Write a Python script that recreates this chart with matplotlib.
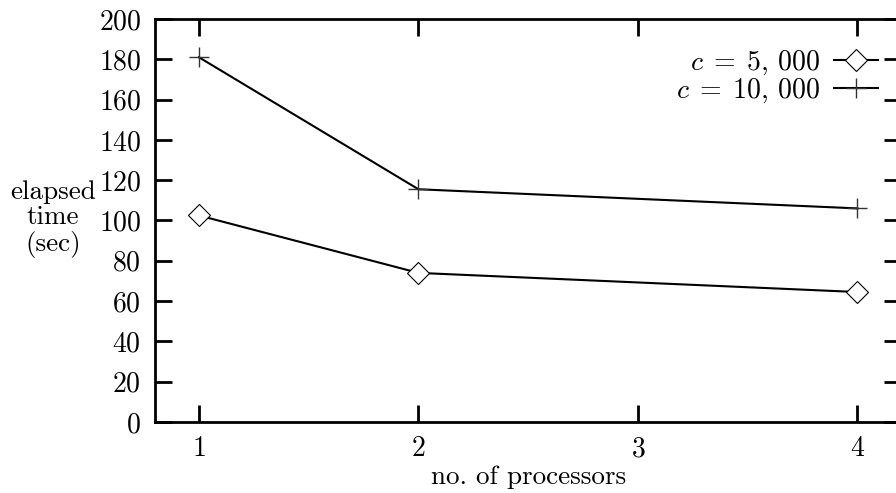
import matplotlib
matplotlib.use("Agg")
import matplotlib.pyplot as plt

procs = [1, 2, 4]
t_5000 = [102.5, 74.0, 64.5]
t_10000 = [181.0, 115.5, 106.0]
labels = [r"$c\;=\;5,\,000$", r"$c\;=\;10,\,000$"]

plt.rcParams["font.family"] = "cmr10"
plt.rcParams["mathtext.fontset"] = "cm"
plt.rcParams["axes.formatter.use_mathtext"] = True

fig = plt.figure(figsize=(8.96, 4.93), dpi=100)
ax = fig.add_axes([0.173, 0.144, 0.833, 0.8175])

ax.plot(procs, t_5000, color="black", lw=1.5, marker="D", markersize=11.5,
        markerfacecolor="white", markeredgecolor="black", markeredgewidth=0.8,
        label=labels[0])
ax.plot(procs, t_10000, color="black", lw=1.5, marker="+", markersize=15,
        markeredgewidth=1.0, markeredgecolor="#333333", label=labels[1])

ax.set_xlim(0.8, 4.2)
ax.set_ylim(0, 200)
ax.set_xticks([1, 2, 3, 4])
ax.set_yticks(range(0, 201, 20))
ax.tick_params(direction="in", length=12, width=2, labelsize=20,
               top=True, right=True, pad=10)
for s in ax.spines.values():
    s.set_linewidth(2)

ax.set_xlabel("no. of processors", fontsize=19.5, labelpad=2)
fig.text(0.059, 0.556, "elapsed\ntime\n(sec)", ha="center", va="center",
         fontsize=19.5, linespacing=1.08)

ax.legend(loc="upper right", frameon=False, markerfirst=False, fontsize=20,
          handlelength=1.6, handletextpad=0.5, borderaxespad=0.0,
          labelspacing=0.0, bbox_to_anchor=(0.984, 0.955))

fig.savefig("out.png", dpi=100)
